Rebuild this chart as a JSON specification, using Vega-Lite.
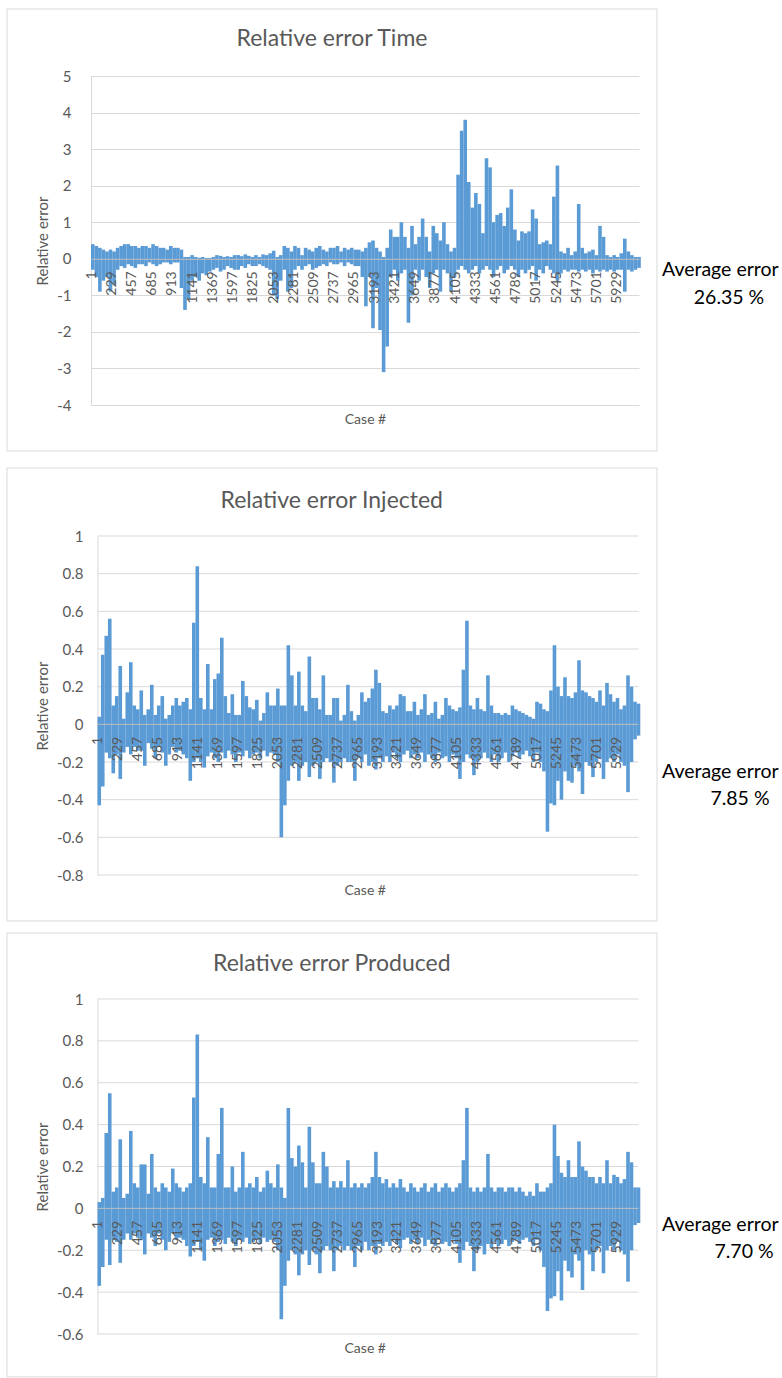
{
"$schema":"https://vega.github.io/schema/vega-lite/v6.json",
"background":"white",
"padding":{"left":6,"top":8,"right":0,"bottom":0},
"columns":1,
"spacing":10,
"config":{
 "font":"Lato",
 "view":{"stroke":null},
 "locale":{"number":{"decimal":".","thousands":",","grouping":[3],"currency":["$",""],"minus":"-"}},
 "title":{"font":"Lato","fontSize":23,"fontWeight":"normal","color":"#595959","frame":"group","anchor":"middle"},
 "axis":{"labelFont":"Lato","titleFont":"Lato","labelColor":"#595959","titleColor":"#595959","titleFontWeight":"normal","ticks":false,"tickSize":0,"gridColor":"#d9d9d9","domainColor":"#d9d9d9","labelOverlap":false,"tickCount":40},
 "axisX":{"labelFontSize":14,"labelAngle":-90,"labelPadding":12,"domainColor":"#bfbfbf","grid":false,"titleFontSize":14,"format":"d","titleBaseline":"middle"},
 "axisY":{"labelFontSize":15,"titleFontSize":15,"titlePadding":6}
},
"datasets":{
"t":[
{"c":20,"h":0.4,"l":-0.3},{"c":60,"h":0.35,"l":-0.5},{"c":100,"h":0.3,"l":-0.9},{"c":140,"h":0.25,"l":-0.6},{"c":180,"h":0.2,"l":-0.5},{"c":220,"h":0.25,"l":-0.9},{"c":260,"h":0.2,"l":-0.7},{"c":300,"h":0.3,"l":-0.3},{"c":340,"h":0.35,"l":-0.2},{"c":380,"h":0.4,"l":-0.25},
{"c":420,"h":0.4,"l":-0.15},{"c":460,"h":0.35,"l":-0.2},{"c":500,"h":0.35,"l":-0.25},{"c":540,"h":0.3,"l":-0.15},{"c":580,"h":0.35,"l":-0.15},{"c":620,"h":0.35,"l":-0.2},{"c":660,"h":0.3,"l":-0.1},{"c":700,"h":0.4,"l":-0.15},{"c":740,"h":0.35,"l":-0.2},{"c":780,"h":0.3,"l":-0.15},
{"c":820,"h":0.3,"l":-0.1},{"c":860,"h":0.25,"l":-0.1},{"c":900,"h":0.35,"l":-0.15},{"c":940,"h":0.3,"l":-0.1},{"c":980,"h":0.3,"l":-0.1},{"c":1020,"h":0.25,"l":-0.8},{"c":1060,"h":0.05,"l":-1.4},{"c":1100,"h":0.05,"l":-1.1},{"c":1140,"h":0.1,"l":-0.6},{"c":1180,"h":0.05,"l":-0.5},
{"c":1220,"h":0.03,"l":-0.6},{"c":1260,"h":0.05,"l":-0.4},{"c":1300,"h":0.02,"l":-0.45},{"c":1340,"h":0.02,"l":-0.35},{"c":1380,"h":0.05,"l":-0.3},{"c":1420,"h":0.1,"l":-0.25},{"c":1460,"h":0.08,"l":-0.35},{"c":1500,"h":0.05,"l":-0.3},{"c":1540,"h":0.07,"l":-0.2},{"c":1580,"h":0.05,"l":-0.25},
{"c":1620,"h":0.1,"l":-0.3},{"c":1660,"h":0.1,"l":-0.3},{"c":1700,"h":0.07,"l":-0.2},{"c":1740,"h":0.12,"l":-0.25},{"c":1780,"h":0.08,"l":-0.15},{"c":1820,"h":0.05,"l":-0.2},{"c":1860,"h":0.1,"l":-0.2},{"c":1900,"h":0.05,"l":-0.15},{"c":1940,"h":0.12,"l":-0.2},{"c":1980,"h":0.1,"l":-0.25},
{"c":2020,"h":0.15,"l":-0.3},{"c":2060,"h":0.22,"l":-1.0},{"c":2100,"h":0.05,"l":-1.1},{"c":2140,"h":0.1,"l":-0.6},{"c":2180,"h":0.35,"l":-0.3},{"c":2220,"h":0.3,"l":-0.9},{"c":2260,"h":0.2,"l":-0.8},{"c":2300,"h":0.35,"l":-0.3},{"c":2340,"h":0.3,"l":-0.2},{"c":2380,"h":0.1,"l":-0.3},
{"c":2420,"h":0.3,"l":-0.2},{"c":2460,"h":0.25,"l":-0.15},{"c":2500,"h":0.2,"l":-0.3},{"c":2540,"h":0.3,"l":-0.25},{"c":2580,"h":0.35,"l":-0.2},{"c":2620,"h":0.25,"l":-0.15},{"c":2660,"h":0.2,"l":-0.2},{"c":2700,"h":0.3,"l":-0.1},{"c":2740,"h":0.3,"l":-0.15},{"c":2780,"h":0.35,"l":-0.15},
{"c":2820,"h":0.2,"l":-0.1},{"c":2860,"h":0.3,"l":-0.2},{"c":2900,"h":0.25,"l":-0.1},{"c":2940,"h":0.3,"l":-0.15},{"c":2980,"h":0.25,"l":-0.2},{"c":3020,"h":0.25,"l":-0.2},{"c":3060,"h":0.2,"l":-0.5},{"c":3100,"h":0.3,"l":-1.3},{"c":3140,"h":0.45,"l":-0.5},{"c":3180,"h":0.5,"l":-1.9},
{"c":3220,"h":0.3,"l":-0.8},{"c":3260,"h":0.2,"l":-1.95},{"c":3300,"h":0.05,"l":-3.1},{"c":3340,"h":0.3,"l":-2.4},{"c":3380,"h":0.8,"l":-0.5},{"c":3420,"h":0.6,"l":-0.3},{"c":3460,"h":0.6,"l":-0.6},{"c":3500,"h":1.0,"l":-0.4},{"c":3540,"h":0.6,"l":-0.3},{"c":3580,"h":0.3,"l":-1.75},
{"c":3620,"h":0.9,"l":-1.0},{"c":3660,"h":0.4,"l":-0.3},{"c":3700,"h":0.6,"l":-0.6},{"c":3740,"h":1.1,"l":-0.3},{"c":3780,"h":0.6,"l":-0.5},{"c":3820,"h":0.2,"l":-0.8},{"c":3860,"h":0.9,"l":-0.4},{"c":3900,"h":0.7,"l":-0.3},{"c":3940,"h":0.5,"l":-0.9},{"c":3980,"h":1.0,"l":-0.3},
{"c":4020,"h":0.4,"l":-0.4},{"c":4060,"h":0.2,"l":-0.9},{"c":4100,"h":0.3,"l":-0.5},{"c":4140,"h":2.3,"l":-0.3},{"c":4180,"h":3.5,"l":-0.2},{"c":4220,"h":3.8,"l":-0.3},{"c":4260,"h":2.1,"l":-0.4},{"c":4300,"h":1.4,"l":-0.3},{"c":4340,"h":1.8,"l":-0.2},{"c":4380,"h":1.5,"l":-0.4},
{"c":4420,"h":0.7,"l":-0.3},{"c":4460,"h":2.75,"l":-0.2},{"c":4500,"h":2.5,"l":-0.3},{"c":4540,"h":1.0,"l":-0.5},{"c":4580,"h":1.2,"l":-0.3},{"c":4620,"h":1.25,"l":-0.2},{"c":4660,"h":0.9,"l":-0.4},{"c":4700,"h":1.4,"l":-0.3},{"c":4740,"h":1.9,"l":-0.2},{"c":4780,"h":0.8,"l":-0.3},
{"c":4820,"h":0.5,"l":-0.5},{"c":4860,"h":0.75,"l":-0.3},{"c":4900,"h":0.7,"l":-0.4},{"c":4940,"h":0.75,"l":-0.3},{"c":4980,"h":1.35,"l":-0.2},{"c":5020,"h":1.1,"l":-0.6},{"c":5060,"h":0.4,"l":-0.3},{"c":5100,"h":0.45,"l":-0.4},{"c":5140,"h":0.5,"l":-0.2},{"c":5180,"h":0.4,"l":-0.3},
{"c":5220,"h":1.7,"l":-0.4},{"c":5260,"h":2.55,"l":-0.6},{"c":5300,"h":0.2,"l":-0.4},{"c":5340,"h":0.15,"l":-0.3},{"c":5380,"h":0.3,"l":-0.35},{"c":5420,"h":0.1,"l":-0.3},{"c":5460,"h":0.2,"l":-0.3},{"c":5500,"h":1.5,"l":-0.35},{"c":5540,"h":0.3,"l":-0.3},{"c":5580,"h":0.15,"l":-0.35},
{"c":5620,"h":0.2,"l":-0.3},{"c":5660,"h":0.25,"l":-0.4},{"c":5700,"h":0.1,"l":-0.3},{"c":5740,"h":0.9,"l":-0.35},{"c":5780,"h":0.6,"l":-0.3},{"c":5820,"h":0.1,"l":-0.35},{"c":5860,"h":0.05,"l":-0.3},{"c":5900,"h":0.1,"l":-0.35},{"c":5940,"h":0.05,"l":-0.3},{"c":5980,"h":0.15,"l":-0.3},
{"c":6020,"h":0.55,"l":-0.9},{"c":6060,"h":0.2,"l":-0.3},{"c":6100,"h":0.1,"l":-0.35},{"c":6140,"h":0.05,"l":-0.3},{"c":6180,"h":0.05,"l":-0.25}
],
"i":[
{"c":20,"h":0.04,"l":-0.43},{"c":60,"h":0.37,"l":-0.33},{"c":100,"h":0.47,"l":-0.15},{"c":140,"h":0.56,"l":-0.18},{"c":180,"h":0.1,"l":-0.26},{"c":220,"h":0.15,"l":-0.16},{"c":260,"h":0.31,"l":-0.29},{"c":300,"h":0.03,"l":-0.15},{"c":340,"h":0.17,"l":-0.12},{"c":380,"h":0.33,"l":-0.16},
{"c":420,"h":0.1,"l":-0.12},{"c":460,"h":0.08,"l":-0.14},{"c":500,"h":0.18,"l":-0.14},{"c":540,"h":0.05,"l":-0.22},{"c":580,"h":0.08,"l":-0.1},{"c":620,"h":0.21,"l":-0.13},{"c":660,"h":0.05,"l":-0.18},{"c":700,"h":0.1,"l":-0.12},{"c":740,"h":0.15,"l":-0.15},{"c":780,"h":0.03,"l":-0.22},
{"c":820,"h":0.05,"l":-0.16},{"c":860,"h":0.1,"l":-0.12},{"c":900,"h":0.14,"l":-0.15},{"c":940,"h":0.1,"l":-0.14},{"c":980,"h":0.12,"l":-0.16},{"c":1020,"h":0.14,"l":-0.18},{"c":1060,"h":0.08,"l":-0.3},{"c":1100,"h":0.54,"l":-0.2},{"c":1140,"h":0.84,"l":-0.18},{"c":1180,"h":0.14,"l":-0.2},
{"c":1220,"h":0.08,"l":-0.23},{"c":1260,"h":0.32,"l":-0.17},{"c":1300,"h":0.08,"l":-0.15},{"c":1340,"h":0.24,"l":-0.18},{"c":1380,"h":0.27,"l":-0.2},{"c":1420,"h":0.46,"l":-0.15},{"c":1460,"h":0.15,"l":-0.18},{"c":1500,"h":0.06,"l":-0.14},{"c":1540,"h":0.16,"l":-0.16},{"c":1580,"h":0.05,"l":-0.2},
{"c":1620,"h":0.05,"l":-0.15},{"c":1660,"h":0.23,"l":-0.17},{"c":1700,"h":0.15,"l":-0.14},{"c":1740,"h":0.09,"l":-0.18},{"c":1780,"h":0.08,"l":-0.16},{"c":1820,"h":0.13,"l":-0.15},{"c":1860,"h":0.02,"l":-0.18},{"c":1900,"h":0.06,"l":-0.14},{"c":1940,"h":0.17,"l":-0.17},{"c":1980,"h":0.1,"l":-0.15},
{"c":2020,"h":0.1,"l":-0.16},{"c":2060,"h":0.19,"l":-0.2},{"c":2100,"h":0.1,"l":-0.6},{"c":2140,"h":0.1,"l":-0.43},{"c":2180,"h":0.42,"l":-0.3},{"c":2220,"h":0.26,"l":-0.22},{"c":2260,"h":0.1,"l":-0.2},{"c":2300,"h":0.28,"l":-0.3},{"c":2340,"h":0.1,"l":-0.22},{"c":2380,"h":0.07,"l":-0.2},
{"c":2420,"h":0.36,"l":-0.28},{"c":2460,"h":0.14,"l":-0.22},{"c":2500,"h":0.14,"l":-0.2},{"c":2540,"h":0.08,"l":-0.29},{"c":2580,"h":0.26,"l":-0.2},{"c":2620,"h":0.05,"l":-0.18},{"c":2660,"h":0.05,"l":-0.2},{"c":2700,"h":0.14,"l":-0.31},{"c":2740,"h":0.14,"l":-0.22},{"c":2780,"h":0.02,"l":-0.2},
{"c":2820,"h":0.05,"l":-0.18},{"c":2860,"h":0.21,"l":-0.2},{"c":2900,"h":0.07,"l":-0.2},{"c":2940,"h":0.02,"l":-0.3},{"c":2980,"h":0.05,"l":-0.18},{"c":3020,"h":0.17,"l":-0.2},{"c":3060,"h":0.12,"l":-0.16},{"c":3100,"h":0.14,"l":-0.22},{"c":3140,"h":0.19,"l":-0.2},{"c":3180,"h":0.29,"l":-0.24},
{"c":3220,"h":0.22,"l":-0.18},{"c":3260,"h":0.07,"l":-0.2},{"c":3300,"h":0.06,"l":-0.17},{"c":3340,"h":0.1,"l":-0.2},{"c":3380,"h":0.08,"l":-0.15},{"c":3420,"h":0.1,"l":-0.18},{"c":3460,"h":0.16,"l":-0.2},{"c":3500,"h":0.15,"l":-0.16},{"c":3540,"h":0.07,"l":-0.14},{"c":3580,"h":0.07,"l":-0.18},
{"c":3620,"h":0.12,"l":-0.16},{"c":3660,"h":0.05,"l":-0.18},{"c":3700,"h":0.08,"l":-0.15},{"c":3740,"h":0.16,"l":-0.2},{"c":3780,"h":0.05,"l":-0.16},{"c":3820,"h":0.06,"l":-0.18},{"c":3860,"h":0.12,"l":-0.2},{"c":3900,"h":0.03,"l":-0.15},{"c":3940,"h":0.05,"l":-0.18},{"c":3980,"h":0.14,"l":-0.17},
{"c":4020,"h":0.1,"l":-0.2},{"c":4060,"h":0.08,"l":-0.16},{"c":4100,"h":0.07,"l":-0.18},{"c":4140,"h":0.09,"l":-0.29},{"c":4180,"h":0.29,"l":-0.2},{"c":4220,"h":0.55,"l":-0.16},{"c":4260,"h":0.1,"l":-0.18},{"c":4300,"h":0.08,"l":-0.27},{"c":4340,"h":0.14,"l":-0.2},{"c":4380,"h":0.08,"l":-0.18},
{"c":4420,"h":0.07,"l":-0.15},{"c":4460,"h":0.26,"l":-0.18},{"c":4500,"h":0.1,"l":-0.2},{"c":4540,"h":0.06,"l":-0.16},{"c":4580,"h":0.06,"l":-0.2},{"c":4620,"h":0.05,"l":-0.18},{"c":4660,"h":0.06,"l":-0.15},{"c":4700,"h":0.05,"l":-0.2},{"c":4740,"h":0.1,"l":-0.17},{"c":4780,"h":0.08,"l":-0.15},
{"c":4820,"h":0.07,"l":-0.18},{"c":4860,"h":0.06,"l":-0.16},{"c":4900,"h":0.05,"l":-0.14},{"c":4940,"h":0.04,"l":-0.17},{"c":4980,"h":0.03,"l":-0.2},{"c":5020,"h":0.12,"l":-0.15},{"c":5060,"h":0.11,"l":-0.2},{"c":5100,"h":0.08,"l":-0.25},{"c":5140,"h":0.07,"l":-0.57},{"c":5180,"h":0.18,"l":-0.42},
{"c":5220,"h":0.42,"l":-0.43},{"c":5260,"h":0.2,"l":-0.3},{"c":5300,"h":0.15,"l":-0.4},{"c":5340,"h":0.25,"l":-0.25},{"c":5380,"h":0.15,"l":-0.3},{"c":5420,"h":0.14,"l":-0.31},{"c":5460,"h":0.17,"l":-0.22},{"c":5500,"h":0.34,"l":-0.25},{"c":5540,"h":0.18,"l":-0.37},{"c":5580,"h":0.17,"l":-0.2},
{"c":5620,"h":0.15,"l":-0.22},{"c":5660,"h":0.14,"l":-0.28},{"c":5700,"h":0.12,"l":-0.2},{"c":5740,"h":0.18,"l":-0.18},{"c":5780,"h":0.1,"l":-0.29},{"c":5820,"h":0.22,"l":-0.2},{"c":5860,"h":0.16,"l":-0.18},{"c":5900,"h":0.12,"l":-0.2},{"c":5940,"h":0.14,"l":-0.16},{"c":5980,"h":0.08,"l":-0.2},
{"c":6020,"h":0.1,"l":-0.22},{"c":6060,"h":0.26,"l":-0.36},{"c":6100,"h":0.2,"l":-0.2},{"c":6140,"h":0.12,"l":-0.08},{"c":6180,"h":0.11,"l":-0.06}
],
"p":[
{"c":20,"h":0.03,"l":-0.37},{"c":60,"h":0.05,"l":-0.28},{"c":100,"h":0.36,"l":-0.15},{"c":140,"h":0.55,"l":-0.27},{"c":180,"h":0.08,"l":-0.15},{"c":220,"h":0.1,"l":-0.16},{"c":260,"h":0.33,"l":-0.26},{"c":300,"h":0.05,"l":-0.15},{"c":340,"h":0.07,"l":-0.12},{"c":380,"h":0.37,"l":-0.15},
{"c":420,"h":0.12,"l":-0.12},{"c":460,"h":0.1,"l":-0.14},{"c":500,"h":0.21,"l":-0.15},{"c":540,"h":0.21,"l":-0.22},{"c":580,"h":0.07,"l":-0.12},{"c":620,"h":0.26,"l":-0.14},{"c":660,"h":0.1,"l":-0.18},{"c":700,"h":0.08,"l":-0.12},{"c":740,"h":0.12,"l":-0.15},{"c":780,"h":0.1,"l":-0.2},
{"c":820,"h":0.08,"l":-0.16},{"c":860,"h":0.19,"l":-0.12},{"c":900,"h":0.12,"l":-0.15},{"c":940,"h":0.1,"l":-0.14},{"c":980,"h":0.08,"l":-0.15},{"c":1020,"h":0.1,"l":-0.18},{"c":1060,"h":0.12,"l":-0.23},{"c":1100,"h":0.53,"l":-0.18},{"c":1140,"h":0.83,"l":-0.16},{"c":1180,"h":0.15,"l":-0.2},
{"c":1220,"h":0.12,"l":-0.25},{"c":1260,"h":0.34,"l":-0.15},{"c":1300,"h":0.1,"l":-0.14},{"c":1340,"h":0.1,"l":-0.18},{"c":1380,"h":0.26,"l":-0.16},{"c":1420,"h":0.48,"l":-0.15},{"c":1460,"h":0.1,"l":-0.17},{"c":1500,"h":0.1,"l":-0.14},{"c":1540,"h":0.2,"l":-0.16},{"c":1580,"h":0.08,"l":-0.18},
{"c":1620,"h":0.1,"l":-0.15},{"c":1660,"h":0.27,"l":-0.16},{"c":1700,"h":0.1,"l":-0.14},{"c":1740,"h":0.12,"l":-0.17},{"c":1780,"h":0.1,"l":-0.16},{"c":1820,"h":0.15,"l":-0.15},{"c":1860,"h":0.08,"l":-0.17},{"c":1900,"h":0.1,"l":-0.14},{"c":1940,"h":0.18,"l":-0.16},{"c":1980,"h":0.12,"l":-0.15},
{"c":2020,"h":0.1,"l":-0.16},{"c":2060,"h":0.21,"l":-0.2},{"c":2100,"h":0.1,"l":-0.53},{"c":2140,"h":0.05,"l":-0.37},{"c":2180,"h":0.48,"l":-0.25},{"c":2220,"h":0.24,"l":-0.2},{"c":2260,"h":0.2,"l":-0.22},{"c":2300,"h":0.3,"l":-0.32},{"c":2340,"h":0.22,"l":-0.22},{"c":2380,"h":0.1,"l":-0.2},
{"c":2420,"h":0.39,"l":-0.27},{"c":2460,"h":0.22,"l":-0.2},{"c":2500,"h":0.12,"l":-0.22},{"c":2540,"h":0.12,"l":-0.31},{"c":2580,"h":0.27,"l":-0.2},{"c":2620,"h":0.2,"l":-0.18},{"c":2660,"h":0.1,"l":-0.2},{"c":2700,"h":0.13,"l":-0.3},{"c":2740,"h":0.1,"l":-0.2},{"c":2780,"h":0.13,"l":-0.18},
{"c":2820,"h":0.1,"l":-0.2},{"c":2860,"h":0.23,"l":-0.18},{"c":2900,"h":0.1,"l":-0.2},{"c":2940,"h":0.12,"l":-0.28},{"c":2980,"h":0.1,"l":-0.18},{"c":3020,"h":0.12,"l":-0.2},{"c":3060,"h":0.1,"l":-0.16},{"c":3100,"h":0.12,"l":-0.2},{"c":3140,"h":0.15,"l":-0.18},{"c":3180,"h":0.27,"l":-0.22},
{"c":3220,"h":0.15,"l":-0.17},{"c":3260,"h":0.12,"l":-0.18},{"c":3300,"h":0.14,"l":-0.16},{"c":3340,"h":0.1,"l":-0.18},{"c":3380,"h":0.12,"l":-0.15},{"c":3420,"h":0.1,"l":-0.17},{"c":3460,"h":0.14,"l":-0.19},{"c":3500,"h":0.1,"l":-0.15},{"c":3540,"h":0.08,"l":-0.14},{"c":3580,"h":0.12,"l":-0.17},
{"c":3620,"h":0.1,"l":-0.15},{"c":3660,"h":0.08,"l":-0.17},{"c":3700,"h":0.1,"l":-0.14},{"c":3740,"h":0.12,"l":-0.18},{"c":3780,"h":0.08,"l":-0.15},{"c":3820,"h":0.1,"l":-0.17},{"c":3860,"h":0.12,"l":-0.18},{"c":3900,"h":0.08,"l":-0.15},{"c":3940,"h":0.1,"l":-0.17},{"c":3980,"h":0.12,"l":-0.16},
{"c":4020,"h":0.1,"l":-0.18},{"c":4060,"h":0.08,"l":-0.15},{"c":4100,"h":0.1,"l":-0.17},{"c":4140,"h":0.12,"l":-0.26},{"c":4180,"h":0.23,"l":-0.2},{"c":4220,"h":0.48,"l":-0.16},{"c":4260,"h":0.1,"l":-0.18},{"c":4300,"h":0.08,"l":-0.3},{"c":4340,"h":0.1,"l":-0.2},{"c":4380,"h":0.08,"l":-0.18},
{"c":4420,"h":0.1,"l":-0.22},{"c":4460,"h":0.26,"l":-0.17},{"c":4500,"h":0.1,"l":-0.19},{"c":4540,"h":0.08,"l":-0.16},{"c":4580,"h":0.1,"l":-0.18},{"c":4620,"h":0.1,"l":-0.17},{"c":4660,"h":0.08,"l":-0.15},{"c":4700,"h":0.1,"l":-0.18},{"c":4740,"h":0.1,"l":-0.16},{"c":4780,"h":0.08,"l":-0.15},
{"c":4820,"h":0.1,"l":-0.17},{"c":4860,"h":0.08,"l":-0.15},{"c":4900,"h":0.06,"l":-0.14},{"c":4940,"h":0.08,"l":-0.16},{"c":4980,"h":0.06,"l":-0.18},{"c":5020,"h":0.12,"l":-0.15},{"c":5060,"h":0.08,"l":-0.2},{"c":5100,"h":0.08,"l":-0.28},{"c":5140,"h":0.1,"l":-0.49},{"c":5180,"h":0.12,"l":-0.43},
{"c":5220,"h":0.4,"l":-0.42},{"c":5260,"h":0.25,"l":-0.3},{"c":5300,"h":0.17,"l":-0.44},{"c":5340,"h":0.15,"l":-0.25},{"c":5380,"h":0.23,"l":-0.3},{"c":5420,"h":0.15,"l":-0.33},{"c":5460,"h":0.15,"l":-0.22},{"c":5500,"h":0.32,"l":-0.25},{"c":5540,"h":0.2,"l":-0.39},{"c":5580,"h":0.18,"l":-0.2},
{"c":5620,"h":0.15,"l":-0.22},{"c":5660,"h":0.15,"l":-0.3},{"c":5700,"h":0.12,"l":-0.2},{"c":5740,"h":0.15,"l":-0.18},{"c":5780,"h":0.12,"l":-0.31},{"c":5820,"h":0.23,"l":-0.2},{"c":5860,"h":0.12,"l":-0.18},{"c":5900,"h":0.16,"l":-0.2},{"c":5940,"h":0.15,"l":-0.16},{"c":5980,"h":0.12,"l":-0.2},
{"c":6020,"h":0.14,"l":-0.22},{"c":6060,"h":0.27,"l":-0.35},{"c":6100,"h":0.22,"l":-0.2},{"c":6140,"h":0.1,"l":-0.08},{"c":6180,"h":0.1,"l":-0.07}
]
},
"concat":[
{"columns":1,"spacing":15,"concat":[
{
 "width":548,"height":329,
 "title":{"text":"Relative error Time","offset":-43,"dx":-33},
 "layer":[
  {"data":{"values":[{}]},"mark":{"type":"rect","fill":"transparent","stroke":"#d9d9d9","strokeWidth":1},
   "encoding":{"x":{"datum":-947},"x2":{"datum":6383},"y":{"datum":6.833},"y2":{"datum":-5.258}}},
  {"data":{"name":"t"},"mark":{"type":"rule","color":"#5b9bd5","strokeWidth":3.6},
   "encoding":{
    "x":{"field":"c","type":"quantitative","scale":{"domain":[0,6180],"nice":false,"zero":false},
     "axis":{"title":"Case #","values":[1,229,457,685,913,1141,1369,1597,1825,2053,2281,2509,2737,2965,3193,3421,3649,3877,4105,4333,4561,4789,5017,5245,5473,5701,5929],"tickCount":40,"offset":-146.2,"titleY":161,"labelOverlap":false,"zindex":1}},
    "y":{"field":"l","type":"quantitative","scale":{"domain":[-4,5],"nice":false,"zero":false},
     "axis":{"title":"Relative error","values":[-4,-3,-2,-1,0,1,2,3,4,5],"tickCount":40,"format":"~g","labelPadding":20,"labelOverlap":false,"grid":true}},
    "y2":{"field":"h"}}},
  {"data":{"values":[{"t":"Average error"}]},"mark":{"type":"text","align":"left","baseline":"middle","fontSize":19.5,"color":"#000000"},
   "encoding":{"x":{"datum":6439},"y":{"datum":-0.306},"text":{"field":"t"}}},
  {"data":{"values":[{"t":"26.35 %"}]},"mark":{"type":"text","align":"center","baseline":"middle","fontSize":19.5,"color":"#000000"},
   "encoding":{"x":{"datum":7195},"y":{"datum":-1.072},"text":{"field":"t"}}}
 ]
},
{
 "width":547.5,"height":339,
 "title":{"text":"Relative error Injected","offset":-45,"dx":-33},
 "layer":[
  {"data":{"values":[{}]},"mark":{"type":"rect","fill":"transparent","stroke":"#d9d9d9","strokeWidth":1},
   "encoding":{"x":{"datum":-1034},"x2":{"datum":6391.5},"y":{"datum":1.361},"y2":{"datum":-1.044}}},
  {"data":{"values":[{"g":-0.8},{"g":-0.6},{"g":-0.4},{"g":-0.2},{"g":0.2},{"g":0.4},{"g":0.6},{"g":0.8},{"g":1}]},"mark":{"type":"rule","color":"#d9d9d9","strokeWidth":1},
   "encoding":{"y":{"field":"g","type":"quantitative"},"x":{"datum":0},"x2":{"datum":6180}}},
  {"data":{"name":"i"},"mark":{"type":"rule","color":"#5b9bd5","strokeWidth":3.6},
   "encoding":{
    "x":{"field":"c","type":"quantitative","scale":{"domain":[-74.3,6180],"nice":false,"zero":false},
     "axis":{"title":"Case #","values":[1,229,457,685,913,1141,1369,1597,1825,2053,2281,2509,2737,2965,3193,3421,3649,3877,4105,4333,4561,4789,5017,5245,5473,5701,5929],"tickCount":40,"offset":-150.7,"titleY":165.7,"labelOverlap":false,"domain":false,"zindex":1}},
    "y":{"field":"l","type":"quantitative","scale":{"domain":[-0.8,1],"nice":false,"zero":false},
     "axis":{"title":"Relative error","values":[-0.8,-0.6,-0.4,-0.2,0,0.2,0.4,0.6,0.8,1],"tickCount":40,"format":"~g","labelPadding":14.5,"labelOverlap":false,"grid":false,"offset":-6.5}},
    "y2":{"field":"h"}}},
  {"data":{"values":[{}]},"mark":{"type":"rule","color":"#bfbfbf","strokeWidth":1},
   "encoding":{"y":{"datum":0},"x":{"datum":0},"x2":{"datum":6180}}},
  {"data":{"values":[{"t":"Average error"}]},"mark":{"type":"text","align":"left","baseline":"middle","fontSize":19.5,"color":"#000000"},
   "encoding":{"x":{"datum":6448},"y":{"datum":-0.253},"text":{"field":"t"}}},
  {"data":{"values":[{"t":"7.85 %"}]},"mark":{"type":"text","align":"center","baseline":"middle","fontSize":19.5,"color":"#000000"},
   "encoding":{"x":{"datum":7339},"y":{"datum":-0.397},"text":{"field":"t"}}}
 ]
}
]},
{
 "width":547.5,"height":335,
 "title":{"text":"Relative error Produced","offset":-43,"dx":-33},
 "layer":[
  {"data":{"values":[{}]},"mark":{"type":"rect","fill":"transparent","stroke":"#d9d9d9","strokeWidth":1},
   "encoding":{"x":{"datum":-1034},"x2":{"datum":6391.5},"y":{"datum":1.315},"y2":{"datum":-0.805}}},
  {"data":{"values":[{"g":-0.6},{"g":-0.4},{"g":-0.2},{"g":0.2},{"g":0.4},{"g":0.6},{"g":0.8},{"g":1}]},"mark":{"type":"rule","color":"#d9d9d9","strokeWidth":1},
   "encoding":{"y":{"field":"g","type":"quantitative"},"x":{"datum":0},"x2":{"datum":6180}}},
  {"data":{"name":"p"},"mark":{"type":"rule","color":"#5b9bd5","strokeWidth":3.6},
   "encoding":{
    "x":{"field":"c","type":"quantitative","scale":{"domain":[-74.3,6180],"nice":false,"zero":false},
     "axis":{"title":"Case #","values":[1,229,457,685,913,1141,1369,1597,1825,2053,2281,2509,2737,2965,3193,3421,3649,3877,4105,4333,4561,4789,5017,5245,5473,5701,5929],"tickCount":40,"offset":-125.6,"titleY":140.3,"labelOverlap":false,"domain":false,"zindex":1}},
    "y":{"field":"l","type":"quantitative","scale":{"domain":[-0.6,1],"nice":false,"zero":false},
     "axis":{"title":"Relative error","values":[-0.6,-0.4,-0.2,0,0.2,0.4,0.6,0.8,1],"tickCount":40,"format":"~g","labelPadding":14.5,"labelOverlap":false,"grid":false,"offset":-6.5}},
    "y2":{"field":"h"}}},
  {"data":{"values":[{}]},"mark":{"type":"rule","color":"#bfbfbf","strokeWidth":1},
   "encoding":{"y":{"datum":0},"x":{"datum":0},"x2":{"datum":6180}}},
  {"data":{"values":[{"t":"Average error"}]},"mark":{"type":"text","align":"left","baseline":"middle","fontSize":19.5,"color":"#000000"},
   "encoding":{"x":{"datum":6448},"y":{"datum":-0.079},"text":{"field":"t"}}},
  {"data":{"values":[{"t":"7.70 %"}]},"mark":{"type":"text","align":"center","baseline":"middle","fontSize":19.5,"color":"#000000"},
   "encoding":{"x":{"datum":7385},"y":{"datum":-0.208},"text":{"field":"t"}}}
 ]
}
]
}
